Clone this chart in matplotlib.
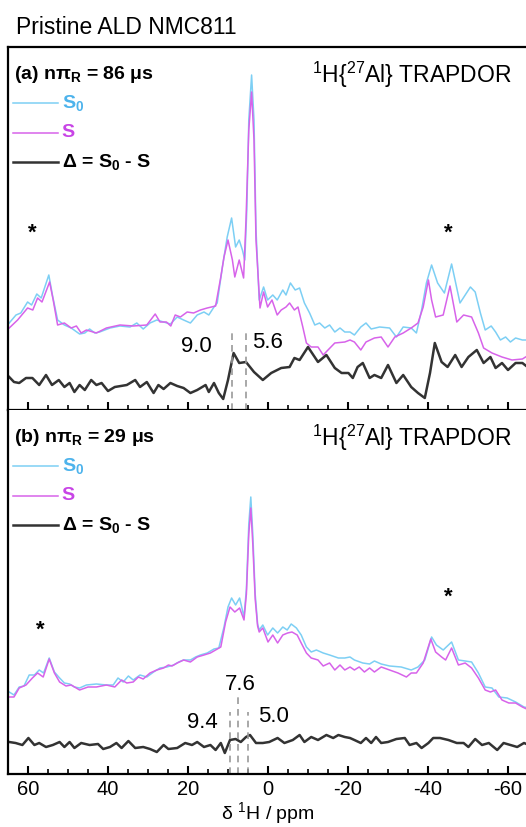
import matplotlib
matplotlib.use("Agg")
import matplotlib.pyplot as plt
from matplotlib.ticker import MultipleLocator

plt.rcParams["font.family"] = ["Liberation Sans", "DejaVu Sans"]
plt.rcParams["mathtext.fontset"] = "custom"
plt.rcParams["mathtext.rm"] = "Liberation Sans"
plt.rcParams["mathtext.bf"] = "Liberation Sans:bold"
plt.rcParams["mathtext.it"] = "Liberation Sans:italic"
plt.rcParams["axes.unicode_minus"] = False

# ---- data (ppm, intensity in arbitrary units) ----
# (a) n*tau_R = 86 us
a_s0_ppm = [64.7, 63.0, 61.8, 60.1, 59.1, 57.8, 56.7, 54.8, 53.8, 52.6, 50.9, 49.2, 47.1, 45.8,
            44.6, 43.3, 42.1, 39.5, 37.0, 34.5, 32.8, 31.2, 29.5, 27.8, 26.1, 24.4, 22.7, 21.1,
            19.4, 17.7, 16.0, 14.8, 13.5, 12.7, 11.4, 10.2, 9.1, 8.1, 7.2, 6.4, 5.8, 5.3, 4.8,
            4.1, 3.5, 3.0, 2.2, 1.1, 0.1, -1.2, -2.3, -3.7, -4.5, -5.6, -6.8, -7.9, -9.1, -10.4,
            -11.7, -12.9, -14.2, -15.4, -16.7, -18.0, -19.2, -20.5, -21.6, -23.2, -24.5, -25.8,
            -27.9, -30.4, -32.1, -33.8, -35.8, -37.1, -38.4, -39.6, -40.9, -42.4, -44.1, -45.9,
            -48.0, -49.3, -50.6, -51.8, -53.1, -54.3, -55.8, -56.9, -58.1, -59.4, -60.6, -61.9,
            -63.6, -65.2]
a_s0_int = [87, 95, 97, 108, 105, 116, 112, 135, 113, 90, 85, 82, 76, 77,
            81, 77, 78, 82, 84, 83, 87, 81, 87, 90, 88, 86, 93, 90,
            87, 95, 98, 95, 103, 107, 143, 173, 192, 163, 170, 160, 150, 200, 290,
            335, 290, 180, 110, 123, 110, 115, 110, 120, 115, 127, 120, 122, 107, 97,
            85, 87, 82, 85, 78, 82, 78, 78, 75, 83, 87, 81,
            83, 82, 73, 83, 82, 77, 100, 127, 145, 127, 117, 146,
            107, 115, 123, 118, 97, 80, 84, 78, 70, 73, 68, 72,
            70, 70]

a_s_ppm = [64.7, 62.6, 60.1, 58.8, 57.6, 56.5, 54.6, 53.7, 52.6, 50.9, 49.2, 47.9, 46.7, 45.4,
           42.9, 40.4, 37.0, 33.7, 30.3, 28.2, 27.0, 25.4, 24.3, 23.2, 21.9, 20.2, 18.6, 16.9,
           15.2, 13.1, 11.8, 11.0, 10.0, 8.9, 8.3, 7.2, 6.1, 5.5, 4.8, 4.1, 3.5, 3.0, 2.0, 1.1,
           0.1, -1.0, -2.3, -3.3, -4.5, -5.4, -6.6, -7.5, -8.7, -9.6, -10.8, -12.5, -13.8, -15.0,
           -16.7, -19.2, -20.5, -21.6, -23.2, -24.5, -26.6, -28.3, -30.0, -31.7, -33.8, -35.8,
           -37.5, -38.8, -40.1, -40.9, -41.9, -43.8, -45.5, -47.2, -48.9, -50.9, -52.6, -53.9,
           -56.0, -58.5, -61.0, -63.6, -65.2]
a_s_int = [82, 90, 102, 100, 112, 108, 128, 110, 85, 87, 82, 84, 77, 80,
           77, 82, 85, 84, 85, 96, 88, 88, 84, 95, 93, 98, 97, 100,
           102, 104, 133, 153, 170, 150, 133, 150, 132, 190, 280, 318, 270, 170, 102, 118,
           103, 110, 95, 100, 103, 107, 100, 103, 83, 67, 63, 63, 55, 60,
           67, 68, 70, 68, 60, 68, 72, 73, 63, 73, 77, 82,
           87, 103, 130, 110, 93, 95, 124, 88, 95, 93, 77, 62,
           57, 53, 50, 51, 55]

a_d_ppm = [64.7, 63.5, 62.2, 60.5, 58.9, 57.2, 55.5, 54.0, 52.3, 50.9, 49.6, 48.4, 47.1, 45.8,
           44.2, 42.9, 41.6, 40.0, 38.3, 35.3, 33.2, 32.0, 30.3, 28.6, 27.4, 26.1, 24.4, 22.7,
           21.1, 19.4, 17.7, 15.6, 14.8, 13.5, 12.3, 11.2, 10.0, 8.6, 7.2, 5.5, 3.5, 1.3, -0.8,
           -3.3, -5.4, -6.6, -7.9, -10.0, -12.5, -14.6, -16.7, -18.4, -20.1, -21.2, -22.4, -23.7,
           -25.4, -26.6, -28.3, -30.0, -32.1, -33.8, -35.8, -37.5, -39.2, -40.5, -41.7, -43.4,
           -44.9, -46.8, -48.4, -50.1, -52.2, -53.9, -55.6, -56.9, -58.5, -60.0, -61.9, -63.6,
           -65.2]
a_d_int = [33, 28, 27, 32, 32, 25, 35, 25, 30, 23, 27, 18, 25, 20,
           30, 25, 27, 19, 23, 25, 30, 23, 28, 17, 25, 21, 27, 24,
           22, 17, 20, 25, 18, 27, 17, 11, 30, 57, 47, 48, 38, 30, 37,
           42, 43, 52, 50, 63, 48, 55, 42, 37, 37, 32, 43, 47,
           32, 35, 32, 45, 27, 35, 23, 17, 12, 37, 67, 48,
           43, 55, 43, 53, 60, 47, 53, 42, 47, 40, 47, 47,
           42]

# (b) n*tau_R = 29 us
b_s0_ppm = [64.7, 63.5, 62.2, 61.0, 59.7, 58.4, 57.2, 56.1, 54.7, 53.4, 52.1, 50.9, 49.6, 48.4,
            47.1, 45.4, 42.9, 40.4, 38.7, 37.5, 36.2, 34.9, 33.7, 32.0, 30.3, 28.6, 27.0, 25.3,
            23.6, 22.3, 21.1, 19.4, 18.1, 16.9, 15.2, 13.5, 12.3, 11.0, 10.0, 9.1, 8.1, 7.1, 6.0,
            5.4, 4.8, 4.3, 3.8, 3.2, 2.6, 2.2, 1.3, 0.1, -1.2, -2.4, -3.7, -4.8, -5.8, -7.1,
            -8.3, -9.6, -10.8, -12.1, -13.8, -15.4, -17.6, -19.2, -20.5, -21.6, -23.7, -25.4,
            -26.6, -28.3, -30.4, -33.3, -35.8, -37.5, -39.2, -40.9, -42.1, -43.8, -45.9, -47.6,
            -49.3, -50.9, -52.6, -54.3, -56.0, -57.7, -59.8, -61.9, -64.0, -65.2]
b_s0_int = [82, 79, 87, 88, 99, 99, 104, 101, 116, 102, 96, 91, 90, 87,
            86, 89, 90, 89, 89, 96, 92, 98, 94, 99, 97, 102, 106, 107,
            109, 112, 114, 114, 117, 119, 121, 125, 126, 147, 167, 176, 169, 176, 157,
            185, 250, 277, 240, 180, 150, 144, 149, 139, 146, 141, 147, 144, 150, 146,
            139, 127, 122, 124, 121, 119, 116, 116, 117, 114, 111, 110,
            113, 110, 108, 107, 104, 107, 114, 137, 129, 124, 132, 114,
            113, 112, 101, 87, 86, 77, 76, 72, 67, 66]

b_s_ppm = [64.7, 63.5, 62.2, 60.5, 58.9, 57.6, 56.2, 54.7, 53.4, 52.1, 50.5, 49.2, 47.1, 45.0,
           42.9, 40.4, 38.3, 36.6, 35.3, 33.7, 32.4, 31.2, 29.5, 27.8, 26.1, 24.9, 24.0, 22.7,
           21.1, 19.4, 17.7, 16.0, 14.4, 13.1, 11.8, 10.6, 9.5, 8.3, 7.1, 6.0, 5.4, 4.8, 4.3,
           3.8, 3.2, 2.6, 2.2, 1.3, 0.0, -1.2, -2.4, -3.7, -4.9, -6.0, -7.3, -8.3, -9.6, -10.8,
           -12.5, -13.8, -15.4, -16.7, -18.0, -19.2, -20.5, -21.6, -22.8, -24.1, -25.4, -26.6,
           -28.3, -30.4, -32.5, -34.6, -35.8, -37.1, -38.8, -40.7, -41.9, -43.4, -44.4, -45.9,
           -47.6, -49.3, -50.9, -52.6, -54.3, -55.6, -56.9, -58.5, -60.2, -61.9, -63.6, -65.2]
b_s_int = [77, 77, 86, 89, 96, 101, 97, 115, 101, 92, 88, 89, 84, 87,
           87, 89, 87, 94, 91, 92, 97, 95, 101, 104, 106, 109, 108, 111,
           114, 112, 117, 119, 121, 124, 127, 152, 167, 162, 166, 154, 180, 240, 266,
           230, 175, 148, 142, 146, 132, 139, 131, 139, 141, 142, 139, 131, 121, 116,
           114, 108, 111, 104, 109, 104, 107, 104, 107, 102, 106, 102,
           107, 104, 101, 97, 101, 101, 111, 135, 122, 117, 114, 126,
           109, 111, 106, 96, 84, 82, 84, 74, 71, 71, 67, 64]

b_d_ppm = [64.7, 63.1, 61.4, 59.9, 58.4, 57.2, 55.5, 53.8, 52.1, 50.9, 49.6, 48.4, 46.7, 44.6,
           42.5, 41.2, 39.5, 37.9, 36.6, 34.9, 33.2, 31.2, 29.5, 27.8, 26.1, 24.9, 22.7, 20.7,
           19.0, 17.7, 16.0, 14.4, 13.1, 11.8, 10.8, 9.5, 8.1, 6.8, 5.5, 4.5, 3.0, 1.3, -0.3,
           -2.4, -4.1, -6.2, -7.9, -9.1, -10.8, -12.5, -14.6, -16.3, -17.6, -19.2, -20.5, -21.6,
           -23.2, -24.5, -25.8, -27.0, -28.3, -30.0, -32.1, -34.2, -35.4, -37.1, -38.4, -40.1,
           -41.3, -43.0, -45.1, -47.2, -48.9, -50.1, -51.8, -53.5, -55.2, -57.3, -58.9, -60.6,
           -62.3, -64.0, -65.2]
b_d_int = [32, 31, 29, 36, 29, 31, 27, 29, 32, 27, 32, 26, 31, 29,
           30, 25, 27, 31, 26, 33, 26, 27, 25, 22, 29, 25, 26, 31,
           29, 32, 27, 29, 24, 31, 21, 34, 35, 32, 37, 39, 31, 31, 32,
           36, 31, 34, 39, 32, 37, 34, 39, 36, 39, 37, 36, 34,
           31, 36, 31, 37, 31, 32, 35, 36, 29, 31, 26, 31,
           36, 36, 34, 31, 31, 27, 35, 29, 31, 24, 31, 29,
           27, 31, 29]

# marked shifts
a_marks = [9.0, 5.6]
b_marks = [9.4, 7.6, 5.0]

col_s0 = "#7dcff4"
col_s = "#d763ea"
col_d = "#333333"
col_s0_txt = "#4db3ec"
col_s_txt = "#c845e6"

fig = plt.figure(figsize=(5.26, 8.27), dpi=100)
W, H = 526, 827
ax_a = fig.add_axes([8 / W, (H - 410) / H, 520 / W, 363 / H])
ax_b = fig.add_axes([8 / W, (H - 774) / H, 520 / W, 364 / H])


def style_axes(ax, top):
    ax.set_xlim(65, -65)
    ax.set_ylim(0, top)
    for side in ["left", "top", "bottom", "right"]:
        ax.spines[side].set_linewidth(1.6)
    ax.spines["right"].set_visible(False)
    ax.set_yticks([])
    ax.xaxis.set_major_locator(MultipleLocator(20))
    ax.xaxis.set_minor_locator(MultipleLocator(5))
    ax.tick_params(axis="x", which="major", direction="in", length=6, width=1.5,
                   top=False, labelsize=14.5, pad=4)
    ax.tick_params(axis="x", which="minor", direction="in", length=3.5, width=1.2, top=False)


def legend_block(ax, tag, delay):
    ax.text(0.012, 0.924, f"({tag}) nπ$_\\mathbf{{R}}$ = {delay} μs", transform=ax.transAxes,
            fontsize=14, fontweight="bold", va="center", ha="left")
    rows = [(0.846, col_s0, 1.1, "S$_\\mathbf{0}$", col_s0_txt),
            (0.764, col_s, 1.1, "S", col_s_txt),
            (0.684, col_d, 1.8, "Δ = S$_\\mathbf{0}$ - S", "black")]
    for y, c, lw, label, tc in rows:
        ax.plot([0.010, 0.096], [y, y], transform=ax.transAxes, color=c, lw=lw)
        ax.text(0.103, y, label, transform=ax.transAxes, color=tc, fontsize=14,
                fontweight="bold", va="center", ha="left")
    ax.text(0.968, 0.924, "$^{1}$H{$^{27}$Al} TRAPDOR", transform=ax.transAxes,
            fontsize=16.5, va="center", ha="right")


# panel (a)
style_axes(ax_a, 363)
ax_a.plot(a_s0_ppm, a_s0_int, color=col_s0, lw=1.1)
ax_a.plot(a_s_ppm, a_s_int, color=col_s, lw=1.1)
ax_a.plot(a_d_ppm, a_d_int, color=col_d, lw=1.8)
for m in a_marks:
    ax_a.plot([m, m], [0, 80], color="#999999", lw=1.2, ls=(0, (4, 3)))
ax_a.text(17.8, 63, "9.0", fontsize=16, ha="center", va="center")
ax_a.text(0.2, 67, "5.6", fontsize=16, ha="center", va="center")
ax_a.text(59, 177, "*", fontsize=16, fontweight="bold", ha="center", va="center")
ax_a.text(-45, 177, "*", fontsize=16, fontweight="bold", ha="center", va="center")
ax_a.tick_params(axis="x", labelbottom=False)
legend_block(ax_a, "a", 86)

# panel (b)
style_axes(ax_b, 364)
ax_b.spines["top"].set_visible(False)
ax_b.plot(b_s0_ppm, b_s0_int, color=col_s0, lw=1.1)
ax_b.plot(b_s_ppm, b_s_int, color=col_s, lw=1.1)
ax_b.plot(b_d_ppm, b_d_int, color=col_d, lw=1.8)
for m, top in zip(b_marks, [62, 79, 62]):
    ax_b.plot([m, m], [0, top], color="#999999", lw=1.2, ls=(0, (4, 3)))
ax_b.text(16.3, 51, "9.4", fontsize=16, ha="center", va="center")
ax_b.text(7.0, 90, "7.6", fontsize=16, ha="center", va="center")
ax_b.text(-1.3, 57, "5.0", fontsize=16, ha="center", va="center")
ax_b.text(57, 144, "*", fontsize=16, fontweight="bold", ha="center", va="center")
ax_b.text(-45, 177, "*", fontsize=16, fontweight="bold", ha="center", va="center")
legend_block(ax_b, "b", 29)

# axis label placed by hand so its descenders stay inside the canvas
fig.text(268 / W, 1 / H, "δ $^{1}$H / ppm", fontsize=14, ha="center", va="bottom")
fig.text(16 / W, (H - 28) / H, "Pristine ALD NMC811", fontsize=16.5, ha="left", va="center")

fig.savefig("out.png", dpi=100)
